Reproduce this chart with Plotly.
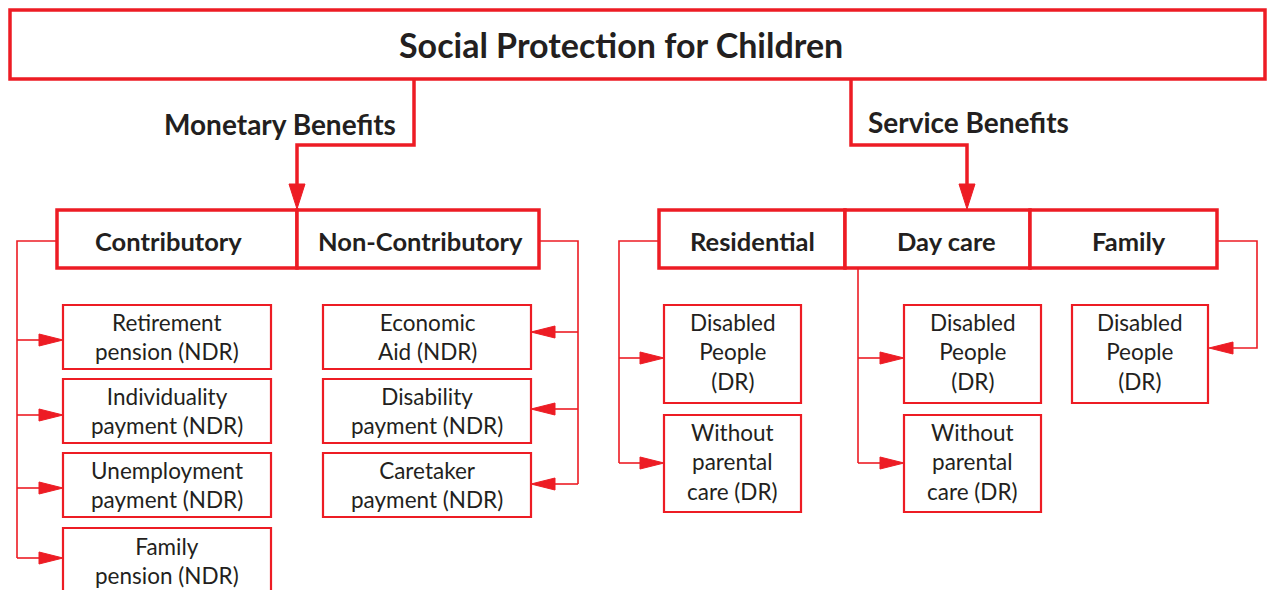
import plotly.graph_objects as go

# ---------------------------------------------------------------------------
# Labels (the diagram's content)
# ---------------------------------------------------------------------------

TITLE = "Social Protection for Children"
BRANCH_LABELS = ["Monetary Benefits", "Service Benefits"]
MONETARY_TYPES = ["Contributory", "Non-Contributory"]
SERVICE_TYPES = ["Residential", "Day care", "Family"]

CONTRIBUTORY_ITEMS = [
    "Retirement<br>pension (NDR)",
    "Individuality<br>payment (NDR)",
    "Unemployment<br>payment (NDR)",
    "Family<br>pension (NDR)",
]
NON_CONTRIBUTORY_ITEMS = [
    "Economic<br>Aid (NDR)",
    "Disability<br>payment (NDR)",
    "Caretaker<br>payment (NDR)",
]
RESIDENTIAL_ITEMS = ["Disabled<br>People<br>(DR)", "Without<br>parental<br>care (DR)"]
DAY_CARE_ITEMS = ["Disabled<br>People<br>(DR)", "Without<br>parental<br>care (DR)"]
FAMILY_ITEMS = ["Disabled<br>People<br>(DR)"]

# ---------------------------------------------------------------------------
# Geometry (page pixels, y grows downward)
# ---------------------------------------------------------------------------

W, H = 1268, 590
RED = "#ED1C24"
INK = "#231F20"
FONT = "Lato"

TITLE_BOX = (10, 10, 1265, 79)
TIER_Y = (210, 268)
MONETARY_X = [57, 297, 539]
SERVICE_X = [659, 845, 1030, 1217]
MONETARY_TEXT_X = [168, 420]
SERVICE_TEXT_X = [752, 946, 1129]

NDR_ROWS = [(305, 369), (379, 443), (453, 517), (528, 593)]
DR_ROWS = [(305, 403), (415, 512)]

CONTRIB_COL = (63, 271)
NONCONTRIB_COL = (323, 531)
RESIDENTIAL_COL = (664, 801)
DAY_CARE_COL = (904, 1041)
FAMILY_COL = (1072, 1208)

shapes = []
annotations = []


def box(x0, y0, x1, y1, width):
    shapes.append(dict(type="rect", x0=x0, y0=y0, x1=x1, y1=y1,
                       line=dict(color=RED, width=width), fillcolor="white"))


def polyline(points, width):
    d = "M " + " L ".join(f"{x} {y}" for x, y in points)
    shapes.append(dict(type="path", path=d, line=dict(color=RED, width=width)))


def arrowhead(tx, ty, direction, length, half):
    if direction == "down":
        pts = [(tx, ty), (tx - half, ty - length), (tx + half, ty - length)]
    elif direction == "right":
        pts = [(tx, ty), (tx - length, ty - half), (tx - length, ty + half)]
    else:  # left
        pts = [(tx, ty), (tx + length, ty - half), (tx + length, ty + half)]
    d = "M " + " L ".join(f"{x} {y}" for x, y in pts) + " Z"
    shapes.append(dict(type="path", path=d, fillcolor=RED,
                       line=dict(color=RED, width=1)))


def label(text, x, y, size, bold=False, xanchor="center"):
    annotations.append(dict(
        x=x, y=y, text=f"<b>{text}</b>" if bold else text, showarrow=False,
        xanchor=xanchor, yanchor="middle", align="center",
        font=dict(family=FONT, size=size, color=INK),
    ))


# title box
box(*TITLE_BOX, 3.5)
label(TITLE, 621, 44, 34, bold=True)

# branch connectors
polyline([(414, 79), (414, 145), (297, 145), (297, 186)], 3.5)
arrowhead(297, 209, "down", 25, 8)
label(BRANCH_LABELS[0], 398, 124, 28, bold=True, xanchor="right")

polyline([(851, 79), (851, 145), (967, 145), (967, 186)], 3.5)
arrowhead(967, 209, "down", 25, 8)
label(BRANCH_LABELS[1], 866, 122, 28, bold=True, xanchor="left")

# tier boxes
for xs, tx, names in [(MONETARY_X, MONETARY_TEXT_X, MONETARY_TYPES),
                      (SERVICE_X, SERVICE_TEXT_X, SERVICE_TYPES)]:
    for i, name in enumerate(names):
        box(xs[i], TIER_Y[0], xs[i + 1], TIER_Y[1], 3.5)
        label(name, tx[i], 241, 25.5, bold=True)


def leaf_column(col, rows, items, size, dy):
    for (y0, y1), text in zip(rows, items):
        box(col[0], y0, col[1], y1, 2.2)
        label(text, (col[0] + col[1]) / 2, (y0 + y1) / 2 + dy, size)


# Contributory: branch out from the left side
contrib_arrows = [340, 415, 488, 558]
polyline([(57, 241), (17, 241), (17, contrib_arrows[-1])], 1.6)
for y in contrib_arrows:
    polyline([(17, y), (42, y)], 1.6)
    arrowhead(CONTRIB_COL[0], y, "right", 24, 6)
leaf_column(CONTRIB_COL, NDR_ROWS, CONTRIBUTORY_ITEMS, 22.5, 0)

# Non-contributory: branch out from the right side
noncontrib_arrows = [332, 409, 484]
polyline([(539, 241), (578, 241), (578, noncontrib_arrows[-1])], 1.6)
for y in noncontrib_arrows:
    polyline([(578, y), (554, y)], 1.6)
    arrowhead(NONCONTRIB_COL[1], y, "left", 24, 6)
leaf_column(NONCONTRIB_COL, NDR_ROWS, NON_CONTRIBUTORY_ITEMS, 22.5, 0)

# Residential
dr_arrows = [358, 463]
polyline([(659, 241), (619, 241), (619, dr_arrows[-1])], 1.6)
for y in dr_arrows:
    polyline([(619, y), (642, y)], 1.6)
    arrowhead(RESIDENTIAL_COL[0], y, "right", 24, 6)
leaf_column(RESIDENTIAL_COL, DR_ROWS, RESIDENTIAL_ITEMS, 22.5, -2)

# Day care
polyline([(858, 268), (858, dr_arrows[-1])], 1.6)
for y in dr_arrows:
    polyline([(858, y), (882, y)], 1.6)
    arrowhead(DAY_CARE_COL[0], y, "right", 24, 6)
leaf_column(DAY_CARE_COL, DR_ROWS, DAY_CARE_ITEMS, 22.5, -2)

# Family
polyline([(1217, 241), (1257, 241), (1257, 348), (1232, 348)], 1.6)
arrowhead(FAMILY_COL[1] + 1, 348, "left", 24, 6)
leaf_column(FAMILY_COL, DR_ROWS[:1], FAMILY_ITEMS, 22.5, -2)

fig = go.Figure()
fig.update_layout(
    width=W,
    height=H,
    margin=dict(l=0, r=0, t=0, b=0),
    paper_bgcolor="white",
    plot_bgcolor="white",
    showlegend=False,
    shapes=shapes,
    annotations=annotations,
    xaxis=dict(range=[0, W], visible=False, fixedrange=True),
    yaxis=dict(range=[H, 0], visible=False, fixedrange=True),
)
fig.write_html(
    "out.html",
    config={"displayModeBar": False},
    post_script="document.body.style.margin = '0';",
)
